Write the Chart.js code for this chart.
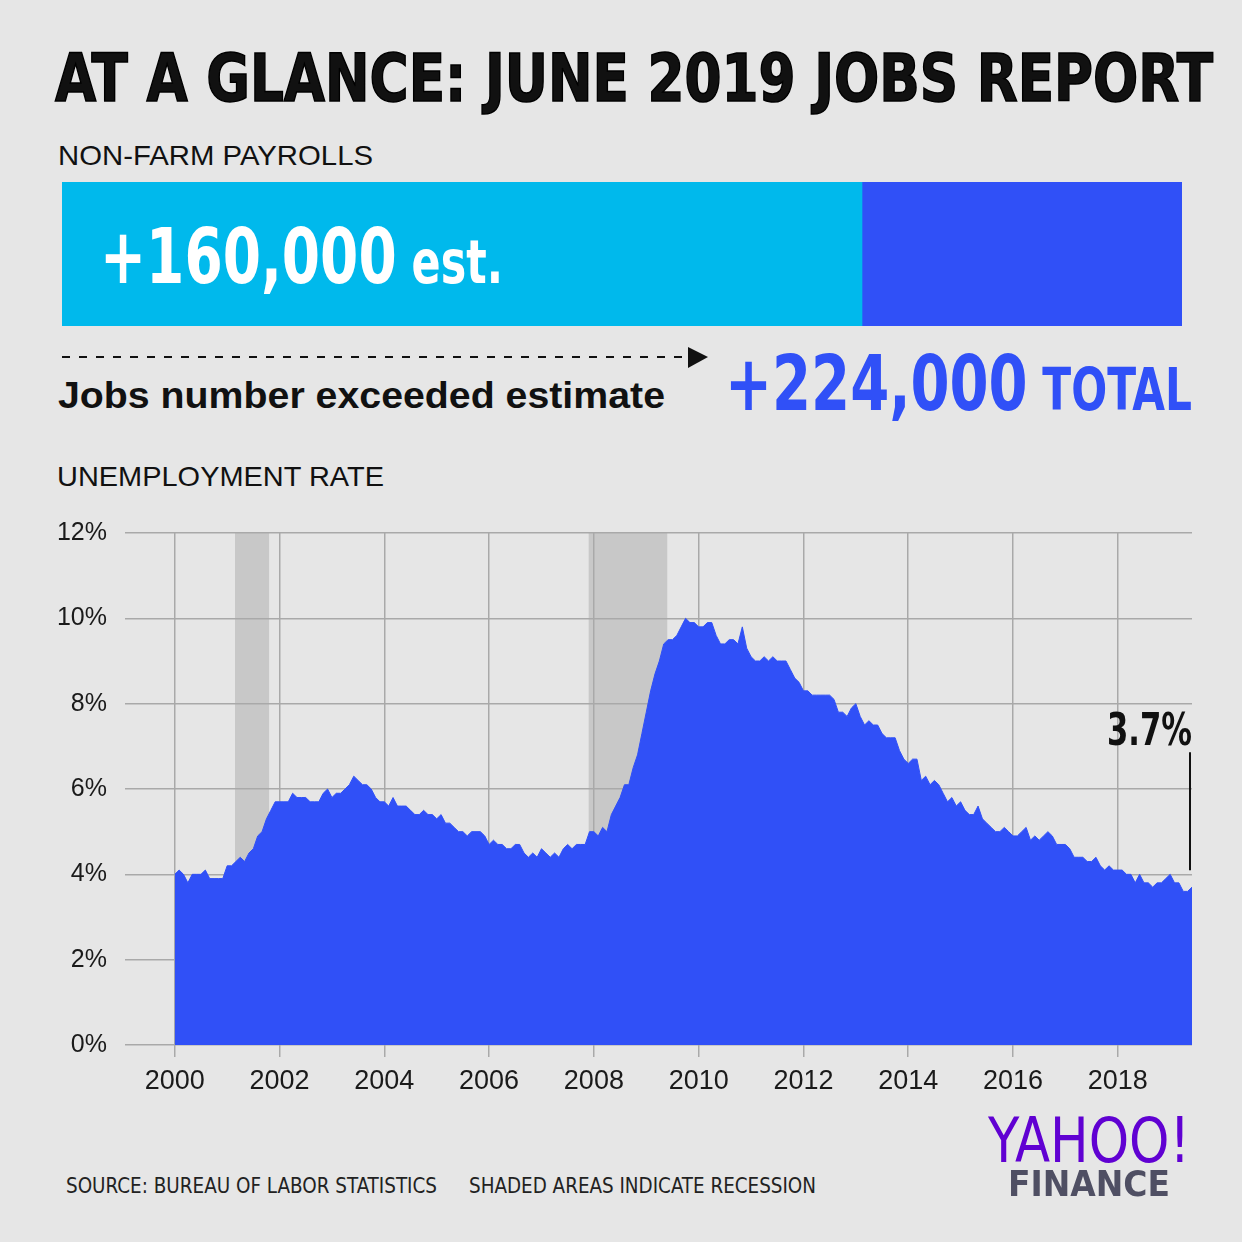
<!DOCTYPE html>
<html>
<head>
<meta charset="utf-8">
<script src="https://cdn.jsdelivr.net/npm/chart.js@4.4.1/dist/chart.umd.min.js"></script>
<style>
  html, body { margin: 0; padding: 0; }
  body { width: 1242px; height: 1242px; background: #e6e6e6; position: relative; overflow: hidden;
         font-family: "Liberation Sans", Arial, sans-serif; color: #111; }
  .t { position: absolute; white-space: nowrap; line-height: 1; display: inline-block; transform-origin: 0 0; }
  .narrow { font-family: "Liberation Sans Narrow", "DejaVu Sans Condensed", sans-serif; }
  #payrollBox { position: absolute; left: 62px; top: 182px; width: 1120px; height: 144px; }
  #rateBox { position: absolute; left: 0; top: 500px; width: 1242px; height: 610px; }
</style>
</head>
<body>

<div class="t narrow" id="title" style="left:55px; top:46px; font-size:66px; font-weight:bold; -webkit-text-stroke:1.5px #000;">AT A GLANCE: JUNE 2019 JOBS REPORT</div>

<div class="t" id="nfp" style="left:58px; top:142px; font-size:28px;">NON-FARM PAYROLLS</div>

<div id="payrollBox"><canvas id="payrollChart"></canvas></div>

<div class="t narrow" id="est" style="left:100px; top:218px; font-size:77px; font-weight:bold; color:#fff;">+160,000<span style="font-size:60px;"> est.</span></div>

<svg style="position:absolute; left:0; top:340px;" width="720" height="36">
  <line x1="62" y1="17" x2="688" y2="17" stroke="#111" stroke-width="2" stroke-dasharray="8,9"/>
  <polygon points="688,7 708,17 688,28" fill="#111"/>
</svg>

<div class="t" id="exceeded" style="left:58px; top:378px; font-size:36px; font-weight:bold;">Jobs number exceeded estimate</div>

<div class="t narrow" id="total" style="left:725px; top:345px; font-size:77px; font-weight:bold; color:#3050f7;">+224,000<span style="font-size:58px;"> TOTAL</span></div>

<div class="t" id="unemp" style="left:57px; top:463px; font-size:28px;">UNEMPLOYMENT RATE</div>

<div id="rateBox"><canvas id="rateChart"></canvas></div>

<div class="t narrow" id="src" style="left:66px; top:1175px; font-size:22px; color:#222;">SOURCE: BUREAU OF LABOR STATISTICS</div>
<div class="t narrow" id="shade" style="left:469px; top:1175px; font-size:22px; color:#222;">SHADED AREAS INDICATE RECESSION</div>

<div class="t narrow" id="yahoo" style="left:988px; top:1110px; font-size:62px; color:#6001d2;">YAHOO!</div>
<div class="t narrow" id="finance" style="left:1008px; top:1166px; font-size:36px; font-weight:bold; color:#4f4f63;">FINANCE</div>

<script>
// payrolls, June 2019
const payrollEstimate = 160000;
const payrollTotal = 224000;

// monthly unemployment rate (%), Jan 2000 - Jun 2019
const startYear = 2000;
const unemploymentRate = [
  4.0, 4.1, 4.0, 3.8, 4.0, 4.0, 4.0, 4.1, 3.9, 3.9, 3.9, 3.9, // 2000
  4.2, 4.2, 4.3, 4.4, 4.3, 4.5, 4.6, 4.9, 5.0, 5.3, 5.5, 5.7, // 2001
  5.7, 5.7, 5.7, 5.9, 5.8, 5.8, 5.8, 5.7, 5.7, 5.7, 5.9, 6.0, // 2002
  5.8, 5.9, 5.9, 6.0, 6.1, 6.3, 6.2, 6.1, 6.1, 6.0, 5.8, 5.7, // 2003
  5.7, 5.6, 5.8, 5.6, 5.6, 5.6, 5.5, 5.4, 5.4, 5.5, 5.4, 5.4, // 2004
  5.3, 5.4, 5.2, 5.2, 5.1, 5.0, 5.0, 4.9, 5.0, 5.0, 5.0, 4.9, // 2005
  4.7, 4.8, 4.7, 4.7, 4.6, 4.6, 4.7, 4.7, 4.5, 4.4, 4.5, 4.4, // 2006
  4.6, 4.5, 4.4, 4.5, 4.4, 4.6, 4.7, 4.6, 4.7, 4.7, 4.7, 5.0, // 2007
  5.0, 4.9, 5.1, 5.0, 5.4, 5.6, 5.8, 6.1, 6.1, 6.5, 6.8, 7.3, // 2008
  7.8, 8.3, 8.7, 9.0, 9.4, 9.5, 9.5, 9.6, 9.8, 10.0, 9.9, 9.9, // 2009
  9.8, 9.8, 9.9, 9.9, 9.6, 9.4, 9.4, 9.5, 9.5, 9.4, 9.8, 9.3, // 2010
  9.1, 9.0, 9.0, 9.1, 9.0, 9.1, 9.0, 9.0, 9.0, 8.8, 8.6, 8.5, // 2011
  8.3, 8.3, 8.2, 8.2, 8.2, 8.2, 8.2, 8.1, 7.8, 7.8, 7.7, 7.9, // 2012
  8.0, 7.7, 7.5, 7.6, 7.5, 7.5, 7.3, 7.2, 7.2, 7.2, 6.9, 6.7, // 2013
  6.6, 6.7, 6.7, 6.2, 6.3, 6.1, 6.2, 6.1, 5.9, 5.7, 5.8, 5.6, // 2014
  5.7, 5.5, 5.4, 5.4, 5.6, 5.3, 5.2, 5.1, 5.0, 5.0, 5.1, 5.0, // 2015
  4.9, 4.9, 5.0, 5.1, 4.8, 4.9, 4.8, 4.9, 5.0, 4.9, 4.7, 4.7, // 2016
  4.7, 4.6, 4.4, 4.4, 4.4, 4.3, 4.3, 4.4, 4.2, 4.1, 4.2, 4.1, // 2017
  4.1, 4.1, 4.0, 4.0, 3.8, 4.0, 3.8, 3.8, 3.7, 3.8, 3.8, 3.9, // 2018
  4.0, 3.8, 3.8, 3.6, 3.6, 3.7                                // 2019
];
const xTickYears = [2000, 2002, 2004, 2006, 2008, 2010, 2012, 2014, 2016, 2018];
const yTicks = [0, 2, 4, 6, 8, 10, 12];
// recessions as decimal years (Mar-Nov 2001, Dec 2007-Jun 2009)
const recessions = [[2001.15, 2001.8], [2007.9, 2009.4]];

// squeeze/stretch a text block to the width it has in the picture
function fitWidth(id, w) {
  const el = document.getElementById(id);
  const cur = el.getBoundingClientRect().width;
  el.style.transform = 'scaleX(' + (w / cur) + ')';
}
fitWidth('title', 1158);
fitWidth('nfp', 315);
fitWidth('est', 403);
fitWidth('exceeded', 607);
fitWidth('total', 467);
fitWidth('unemp', 327);
fitWidth('src', 371);
fitWidth('shade', 347);
fitWidth('yahoo', 202);
fitWidth('finance', 162);

// payroll bar
new Chart(document.getElementById('payrollChart'), {
  type: 'bar',
  data: {
    labels: ['June 2019'],
    datasets: [
      { label: 'Estimate', data: [payrollEstimate], backgroundColor: '#00b9ec' },
      { label: 'Above estimate', data: [payrollTotal - payrollEstimate], backgroundColor: '#3050f7' }
    ]
  },
  options: {
    indexAxis: 'y',
    responsive: true,
    maintainAspectRatio: false,
    animation: false,
    barPercentage: 1,
    categoryPercentage: 1,
    layout: { padding: 0 },
    scales: {
      x: { stacked: true, display: false, min: 0, max: payrollTotal },
      y: { stacked: true, display: false }
    },
    plugins: { legend: { display: false }, tooltip: { enabled: false } }
  }
});

// unemployment area
const ratePoints = unemploymentRate.map((v, i) => ({ x: startYear + i / 12, y: v }));
const lastPoint = ratePoints[ratePoints.length - 1];

const recessionShading = {
  id: 'recessionShading',
  beforeDraw(chart) {
    const { ctx, chartArea, scales: { x } } = chart;
    ctx.save();
    ctx.fillStyle = '#c8c8c8';
    recessions.forEach(([a, b]) => {
      const x0 = x.getPixelForValue(a), x1 = x.getPixelForValue(b);
      ctx.fillRect(x0, chartArea.top, x1 - x0, chartArea.bottom - chartArea.top);
    });
    ctx.restore();
  }
};

const lastLabel = {
  id: 'lastLabel',
  afterDatasetsDraw(chart) {
    const { ctx, scales: { x, y } } = chart;
    const px = x.getPixelForValue(lastPoint.x) - 2;
    const py = y.getPixelForValue(lastPoint.y);
    ctx.save();
    ctx.strokeStyle = '#111';
    ctx.lineWidth = 2;
    ctx.beginPath();
    ctx.moveTo(px, py - 17);
    ctx.lineTo(px, py - 135);
    ctx.stroke();
    ctx.fillStyle = '#111';
    ctx.font = 'bold 45px "Liberation Sans Narrow", "DejaVu Sans Condensed", sans-serif';
    ctx.textAlign = 'right';
    ctx.textBaseline = 'alphabetic';
    const txt = lastPoint.y.toFixed(1) + '%';
    const w = ctx.measureText(txt).width;
    ctx.translate(px + 2, py - 142);
    ctx.scale(85 / w, 1);
    ctx.fillText(txt, 0, 0);
    ctx.restore();
  }
};

new Chart(document.getElementById('rateChart'), {
  type: 'line',
  data: {
    datasets: [{
      label: 'Unemployment rate',
      data: ratePoints,
      fill: 'origin',
      backgroundColor: '#3050f7',
      borderColor: '#3050f7',
      borderWidth: 1,
      pointRadius: 0,
      tension: 0
    }]
  },
  options: {
    responsive: true,
    maintainAspectRatio: false,
    animation: false,
    layout: { padding: { top: 33, right: 50, left: 0, bottom: 0 } },
    scales: {
      x: {
        type: 'linear',
        min: 1999.05,
        max: lastPoint.x,
        afterBuildTicks: s => { s.ticks = xTickYears.map(v => ({ value: v })); },
        afterFit: s => { s.height = 65; },
        grid: { color: '#a9a9a9', lineWidth: 1.5, drawTicks: true, tickLength: 12 },
        border: { display: false },
        ticks: {
          color: '#1a1a1a', padding: 8, maxRotation: 0, autoSkip: false,
          font: { family: '"Liberation Sans", Arial, sans-serif', size: 27 },
          callback: v => String(v)
        }
      },
      y: {
        min: 0,
        max: 12,
        afterBuildTicks: s => { s.ticks = yTicks.map(v => ({ value: v })); },
        afterFit: s => { s.width = 125; },
        grid: { color: '#a9a9a9', lineWidth: 1.5, drawTicks: false },
        border: { display: false },
        ticks: {
          color: '#1a1a1a', padding: 18,
          font: { family: '"Liberation Sans", Arial, sans-serif', size: 25 },
          callback: v => v + '%'
        }
      }
    },
    plugins: { legend: { display: false }, tooltip: { enabled: false } }
  },
  plugins: [recessionShading, lastLabel]
});
</script>
</body>
</html>
